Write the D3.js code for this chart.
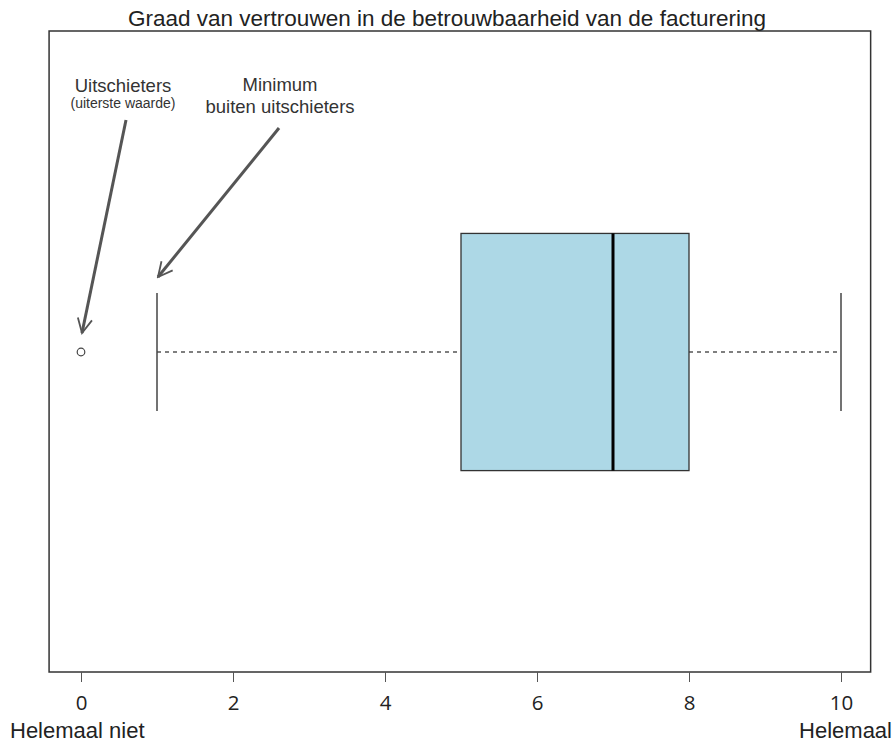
<!DOCTYPE html>
<html>
<head>
<meta charset="utf-8">
<script src="https://cdn.jsdelivr.net/npm/d3@7"></script>
<style>
  html, body { margin: 0; padding: 0; background: #fff; }
  svg { display: block; }
</style>
</head>
<body>
<svg id="chart" width="894" height="743"></svg>
<script>
// Five-number summary of the confidence score (0 = not at all, 10 = completely)
const statNames = ["whiskerLow", "q1", "median", "q3", "whiskerHigh"];
const statValues = [1, 5, 7, 8, 10];
const outliers = [0];
const tickValues = [0, 2, 4, 6, 8, 10];
const titleText = "Graad van vertrouwen in de betrouwbaarheid van de facturering";
const endLabels = ["Helemaal niet", "Helemaal"];

const stats = Object.fromEntries(statNames.map((n, i) => [n, statValues[i]]));

const svg = d3.select("#chart");
const x = d3.scaleLinear().domain([0, 10]).range([81, 841]);
// vertical unit scale: 0 = bottom of frame, 1 = top of frame
const y = d3.scaleLinear().domain([0, 1]).range([672, 31]);
const mid = 0.4992;
const boxHalf = 0.185;
const capHalf = 0.092;

const frameL = x(-0.42), frameR = x(10.39);
const sans = "Liberation Sans, Arial, sans-serif";

// plot frame
svg.append("rect")
  .attr("x", frameL).attr("y", y(1))
  .attr("width", frameR - frameL).attr("height", y(0) - y(1))
  .attr("fill", "none").attr("stroke", "#333").attr("stroke-width", 1.5);

// title
svg.append("text")
  .attr("x", 447).attr("y", 26)
  .attr("text-anchor", "middle")
  .attr("font-family", sans)
  .attr("font-size", 22.5).attr("fill", "#222")
  .text(titleText);

// x axis
const axis = d3.axisBottom(x).tickValues(tickValues).tickSize(10);
const gAxis = svg.append("g").attr("transform", `translate(0,${y(0)})`).call(axis);
gAxis.select(".domain").remove();
gAxis.selectAll(".tick line").attr("stroke", "#555").attr("stroke-width", 1);
gAxis.selectAll(".tick text")
  .attr("y", 38).attr("dy", null)
  .attr("font-family", "Open Sans, sans-serif")
  .attr("font-size", 20.5).attr("fill", "#222");

// end labels under the axis
svg.append("text")
  .attr("x", 10).attr("y", 738)
  .attr("font-family", sans)
  .attr("font-size", 22).attr("fill", "#222")
  .text(endLabels[0]);
svg.append("text")
  .attr("x", 892).attr("y", 738).attr("text-anchor", "end")
  .attr("font-family", sans)
  .attr("font-size", 22).attr("fill", "#222")
  .text(endLabels[1]);

// whiskers (dashed)
svg.append("line")
  .attr("x1", x(stats.whiskerLow)).attr("x2", x(stats.q1))
  .attr("y1", y(mid)).attr("y2", y(mid))
  .attr("stroke", "#555").attr("stroke-width", 1.3).attr("stroke-dasharray", "4,4");
svg.append("line")
  .attr("x1", x(stats.q3)).attr("x2", x(stats.whiskerHigh))
  .attr("y1", y(mid)).attr("y2", y(mid))
  .attr("stroke", "#555").attr("stroke-width", 1.3).attr("stroke-dasharray", "4,4");

// whisker caps
[stats.whiskerLow, stats.whiskerHigh].forEach(v => {
  svg.append("line")
    .attr("x1", x(v)).attr("x2", x(v))
    .attr("y1", y(mid + capHalf)).attr("y2", y(mid - capHalf))
    .attr("stroke", "#444").attr("stroke-width", 1.5);
});

// box
svg.append("rect")
  .attr("x", x(stats.q1)).attr("y", y(mid + boxHalf))
  .attr("width", x(stats.q3) - x(stats.q1))
  .attr("height", y(mid - boxHalf) - y(mid + boxHalf))
  .attr("fill", "#add8e6").attr("stroke", "#333").attr("stroke-width", 1.3);

// median
svg.append("line")
  .attr("x1", x(stats.median)).attr("x2", x(stats.median))
  .attr("y1", y(mid + boxHalf)).attr("y2", y(mid - boxHalf))
  .attr("stroke", "#000").attr("stroke-width", 3);

// outliers
svg.selectAll("circle.outlier").data(outliers).join("circle")
  .attr("class", "outlier")
  .attr("cx", d => x(d)).attr("cy", y(mid)).attr("r", 3.8)
  .attr("fill", "none").attr("stroke", "#444").attr("stroke-width", 1.2);

// annotation arrows
const defs = svg.append("defs");
defs.append("marker")
  .attr("id", "arrowhead")
  .attr("viewBox", "0 0 10 10")
  .attr("refX", 9).attr("refY", 5)
  .attr("markerWidth", 6).attr("markerHeight", 6)
  .attr("markerUnits", "strokeWidth")
  .attr("orient", "auto")
  .append("path")
  .attr("d", "M1,1 L9,5 L1,9")
  .attr("fill", "none").attr("stroke", "#555").attr("stroke-width", 1);

const annotations = [
  { x1: 126, y1: 120, x2: outliers[0], y2: 333 },
  { x1: 279, y1: 128, x2: stats.whiskerLow, y2: 277 }
];
annotations.forEach(a => {
  svg.append("line")
    .attr("x1", a.x1).attr("y1", a.y1)
    .attr("x2", x(a.x2) + 1).attr("y2", a.y2)
    .attr("stroke", "#555").attr("stroke-width", 3)
    .attr("marker-end", "url(#arrowhead)");
});

const annText = (tx, ty, size, s) => svg.append("text")
  .attr("x", tx).attr("y", ty).attr("text-anchor", "middle")
  .attr("font-family", sans)
  .attr("font-size", size).attr("fill", "#333").text(s);

annText(123, 92, 18.5, "Uitschieters");
annText(123, 108, 14, "(uiterste waarde)");
annText(280, 91, 18.5, "Minimum");
annText(280, 113, 18.5, "buiten uitschieters");
</script>
</body>
</html>
